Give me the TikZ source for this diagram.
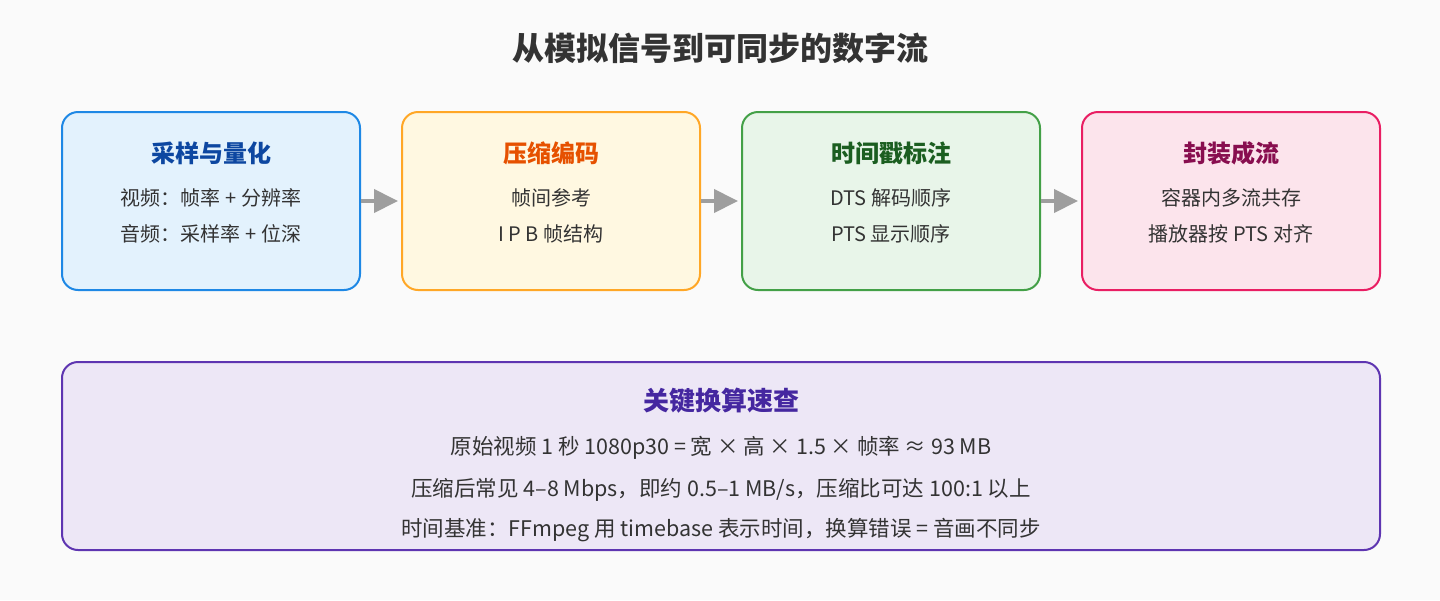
\documentclass[tikz,border=0pt]{standalone}
\usepackage{fontspec}
\setmainfont{Noto Sans CJK SC}
\usetikzlibrary{arrows.meta}
\definecolor{bg}{HTML}{FAFAFA}
\definecolor{ink}{HTML}{333333}
\definecolor{arrowgray}{HTML}{9E9E9E}
\definecolor{fa}{HTML}{E3F2FD}\definecolor{da}{HTML}{1E88E5}\definecolor{ta}{HTML}{0D47A1}
\definecolor{fb}{HTML}{FFF8E1}\definecolor{db}{HTML}{FFA726}\definecolor{tb}{HTML}{E65100}
\definecolor{fc}{HTML}{E8F5E9}\definecolor{dc}{HTML}{43A047}\definecolor{tc}{HTML}{1B5E20}
\definecolor{fd}{HTML}{FCE4EC}\definecolor{dd}{HTML}{E91E63}\definecolor{td}{HTML}{880E4F}
\definecolor{fe}{HTML}{EDE7F6}\definecolor{de}{HTML}{5E35B1}\definecolor{te}{HTML}{4527A0}
\begin{document}
\begin{tikzpicture}[x=1pt,y=-1pt,
    stagebox/.style={line width=2pt,rounded corners=16pt,anchor=north west,
      minimum width=298pt,minimum height=178pt},
    head/.style={font=\fontsize{24}{28}\selectfont\bfseries},
    body/.style={font=\fontsize{20}{24}\selectfont,text=ink},
    flow/.style={draw=arrowgray,line width=4pt,shorten >=3pt,
      -{Triangle[length=24pt,width=23pt]}},
  ]
  \fill[bg] (0,0) rectangle (1440,600);
  \node[font=\fontsize{32}{37}\selectfont\bfseries,text=ink] (title) at (720,48) {从模拟信号到可同步的数字流};
  \foreach \i/\f/\d/\t/\ttl/\la/\lb in {
      1/fa/da/ta/采样与量化/视频：帧率 + 分辨率/音频：采样率 + 位深,
      2/fb/db/tb/压缩编码/帧间参考/I P B 帧结构,
      3/fc/dc/tc/时间戳标注/DTS 解码顺序/PTS 显示顺序,
      4/fd/dd/td/封装成流/容器内多流共存/播放器按 PTS 对齐}{
    \node[stagebox,draw=\d,fill=\f] (s\i) at ({61+(\i-1)*340},111) {};
    \node[head,text=\t] (t\i) at ([yshift=-42pt]s\i.north) {\ttl};
    \node[body] (a\i) at ([yshift=-87pt]s\i.north) {\la};
    \node[body] (b\i) at ([yshift=-123pt]s\i.north) {\lb};
  };
  \foreach \i [evaluate=\i as \j using int(\i+1)] in {1,2,3}
    \draw[flow] (s\i.east) -- (s\j.west);
  % quick reference
  \node[stagebox,draw=de,fill=fe,minimum width=1318pt,minimum height=188pt] (ref) at (61,361) {};
  \node[head,text=te,font=\fontsize{26}{30}\selectfont\bfseries] (reft) at ([yshift=-40pt]ref.north) {关键换算速查};
  \node[body,font=\fontsize{21.5}{26}\selectfont] (r1) at ([yshift=-87pt]ref.north) {原始视频 1 秒 1080p30 = 宽 × 高 × 1.5 × 帧率 ≈ 93 MB};
  \node[body,font=\fontsize{21.5}{26}\selectfont] (r2) at ([yshift=-129pt]ref.north) {压缩后常见 4–8 Mbps，即约 0.5–1 MB/s，压缩比可达 100:1 以上};
  \node[body,font=\fontsize{21.5}{26}\selectfont] (r3) at ([yshift=-169pt]ref.north) {时间基准：FFmpeg 用 timebase 表示时间，换算错误 = 音画不同步};
\end{tikzpicture}
\end{document}
